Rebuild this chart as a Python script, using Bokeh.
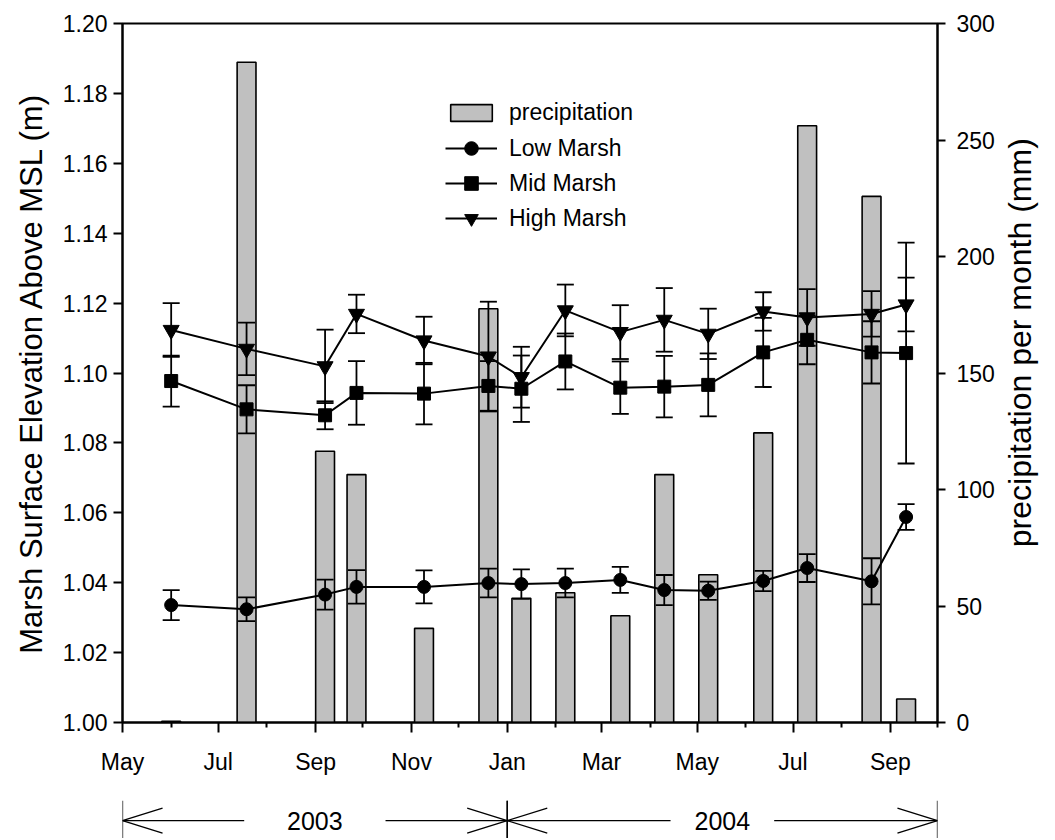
import math
import pandas as pd
from bokeh.plotting import figure
from bokeh.models import (ColumnDataSource, Range1d, LinearAxis, FixedTicker,
                          DatetimeTickFormatter, NumeralTickFormatter, Whisker,
                          TeeHead, Legend, LegendItem)
from bokeh.layouts import column, row
from bokeh.embed import file_html
from bokeh.resources import INLINE
from bokeh.core.properties import value

# ---------------- data ----------------
dates = ["2003-06-01", "2003-07-19", "2003-09-07", "2003-09-27", "2003-11-09",
         "2003-12-20", "2004-01-10", "2004-02-07", "2004-03-13", "2004-04-10",
         "2004-05-08", "2004-06-12", "2004-07-10", "2004-08-20", "2004-09-11"]
precip = [0.5, 283.4, 116.4, 106.4, 40.4, 177.6, 53.3, 55.7, 45.8, 106.4,
          63.4, 124.3, 256.1, 225.8, 10.1]
low = [1.0336, 1.0324, 1.0366, 1.0388, 1.0388, 1.0399, 1.0396, 1.0399, 1.0408,
       1.0379, 1.0377, 1.0405, 1.0442, 1.0404, 1.0588]
low_err = [0.0043, 0.0034, 0.0043, 0.0048, 0.0047, 0.0041, 0.0042, 0.0041, 0.0037,
           0.0043, 0.0026, 0.0029, 0.0040, 0.0066, 0.0037]
mid = [1.0977, 1.0896, 1.0879, 1.0943, 1.0941, 1.0963, 1.0955, 1.1033, 1.0958,
       1.0961, 1.0966, 1.1059, 1.1095, 1.1059, 1.1057]
mid_err = [0.0073, 0.0069, 0.0040, 0.0091, 0.0088, 0.0071, 0.0095, 0.0080, 0.0075,
           0.0088, 0.0090, 0.0099, 0.0070, 0.0089, 0.0316]
high = [1.1123, 1.1069, 1.1019, 1.1169, 1.1093, 1.1047, 1.0988, 1.1179, 1.1117,
        1.1152, 1.1112, 1.1176, 1.1159, 1.1169, 1.1196]
high_err = [0.0077, 0.0075, 0.0105, 0.0055, 0.0068, 0.0157, 0.0087, 0.0074, 0.0077,
            0.0091, 0.0072, 0.0055, 0.0081, 0.0065, 0.0077]

x_start, x_end = "2003-05-01", "2004-10-01"
major_months = ["2003-05-01", "2003-07-01", "2003-09-01", "2003-11-01", "2004-01-01",
                "2004-03-01", "2004-05-01", "2004-07-01", "2004-09-01"]
minor_months = ["2003-06-01", "2003-08-01", "2003-10-01", "2003-12-01", "2004-02-01",
                "2004-04-01", "2004-06-01", "2004-08-01", "2004-10-01"]
left_ticks = [1.00, 1.02, 1.04, 1.06, 1.08, 1.10, 1.12, 1.14, 1.16, 1.18, 1.20]
right_ticks = [0, 50, 100, 150, 200, 250, 300]
years = ["2003", "2004"]
year_starts = ["2003-05-01", "2004-01-01"]
year_ends = ["2004-01-01", "2004-10-01"]
right_title = "precipitation per month (mm)"

FONT = "Liberation Sans"
DAY = 86400000


def ms(d):
    return pd.Timestamp(d).value // 10**6


x = pd.to_datetime(dates)
src = ColumnDataSource(dict(
    x=x, precip=precip,
    low=low, low_up=[v + e for v, e in zip(low, low_err)], low_lo=[v - e for v, e in zip(low, low_err)],
    mid=mid, mid_up=[v + e for v, e in zip(mid, mid_err)], mid_lo=[v - e for v, e in zip(mid, mid_err)],
    high=high, high_up=[v + e for v, e in zip(high, high_err)], high_lo=[v - e for v, e in zip(high, high_err)],
))

LEFT, RIGHT_EDGE = 122, 937
W1 = 999            # main figure width
WR = 50             # strip holding the right axis title
TOP, BOTTOM, H1 = 23, 78, 800

p = figure(width=W1, height=H1, x_axis_type="datetime",
           x_range=Range1d(pd.Timestamp(x_start), pd.Timestamp(x_end)),
           y_range=Range1d(1.0, 1.2),
           output_backend="svg", toolbar_location=None,
           min_border_left=LEFT, min_border_right=W1 - RIGHT_EDGE,
           min_border_top=TOP, min_border_bottom=BOTTOM)
precip_range = Range1d(0, 300)
p.extra_y_ranges = {"precip": precip_range}
p.grid.visible = False
p.outline_line_color = "black"
p.outline_line_width = 2
p.background_fill_color = "white"
p.border_fill_color = "white"

# bars
bars = p.vbar(x="x", top="precip", bottom=0, width=12 * DAY, source=src, y_range_name="precip",
              fill_color="#c0c0c0", line_color="black", line_width=1.6)

# series
series = []
for key, marker, size in [("low", "circle", 13), ("mid", "square", 13), ("high", "inverted_triangle", 16)]:
    ln = p.line("x", key, source=src, line_color="black", line_width=2)
    sc = p.scatter("x", key, source=src, marker=marker, size=size, fill_color="black", line_color="black")
    w = Whisker(source=src, base="x", upper=key + "_up", lower=key + "_lo",
                line_color="black", line_width=1.8, level="overlay",
                upper_head=TeeHead(size=17, line_width=1.8, line_color="black"),
                lower_head=TeeHead(size=17, line_width=1.8, line_color="black"))
    p.add_layout(w)
    series.append((ln, sc))

# axes
xa = p.xaxis[0]
xa.ticker = FixedTicker(ticks=[ms(d) for d in major_months], minor_ticks=[ms(d) for d in minor_months])
xa.formatter = DatetimeTickFormatter(months="%b", days="%b", years="%b", hours="%b",
                                     hourmin="%b", minutes="%b", minsec="%b", seconds="%b",
                                     milliseconds="%b", microseconds="%b")
xa.major_tick_in = 0
xa.major_tick_out = 10
xa.minor_tick_in = 0
xa.minor_tick_out = 5
xa.major_label_standoff = 16

ya = p.yaxis[0]
ya.ticker = FixedTicker(ticks=left_ticks)
ya.formatter = NumeralTickFormatter(format="0.00")
ya.axis_label = "Marsh Surface Elevation Above MSL (m)"
ya.major_tick_in = 0
ya.major_tick_out = 9
ya.major_label_standoff = 6
ya.axis_label_standoff = 11

ra = LinearAxis(y_range_name="precip", ticker=FixedTicker(ticks=right_ticks))
ra.major_tick_in = 0
ra.major_tick_out = 8
ra.major_label_standoff = 11
p.add_layout(ra, "right")

for ax in [xa, ya, ra]:
    ax.axis_line_width = 2
    ax.axis_line_color = "black"
    ax.major_tick_line_width = 2
    ax.major_tick_line_color = "black"
    ax.minor_tick_line_width = 2
    ax.major_label_text_font = FONT
    ax.major_label_text_font_size = "23px"
    ax.major_label_text_color = "black"
    ax.axis_label_text_font = FONT
    ax.axis_label_text_font_style = "normal"
    ax.axis_label_text_color = "black"
ya.axis_label_text_font_size = "31px"
ya.minor_tick_line_color = None
ra.minor_tick_line_color = None

# legends
common = dict(background_fill_alpha=0, border_line_color=None, padding=0, margin=0,
              glyph_width=52, label_standoff=12, label_text_font=FONT,
              label_text_font_size="23px", label_text_color="black")
leg1 = Legend(items=[LegendItem(label="precipitation", renderers=[bars])],
              location=(323, 596), glyph_height=21, label_height=21, **common)
leg2 = Legend(items=[LegendItem(label=lab, renderers=[ln, sc])
                     for lab, (ln, sc) in zip(["Low Marsh", "Mid Marsh", "High Marsh"], series)],
              location=(323, 487), glyph_height=34, label_height=34, spacing=1, **common)
p.add_layout(leg1)
p.add_layout(leg2)

# ---------------- right axis title strip (reads upwards) ----------------
pr = figure(width=WR, height=H1, x_range=Range1d(0, 1), y_range=precip_range,
            x_axis_type=None, y_axis_type=None,
            output_backend="svg", toolbar_location=None,
            min_border_left=0, min_border_right=0, min_border_top=TOP, min_border_bottom=BOTTOM)
pr.grid.visible = False
pr.outline_line_color = None
pr.background_fill_color = "white"
pr.border_fill_color = "white"
pr.text(x=[0.4], y=[163], text=[right_title], angle=math.pi / 2,
        text_align="center", text_baseline="middle",
        text_font=value(FONT), text_font_size="32px", text_color="black")

# ---------------- year bar below ----------------
W2 = W1 + WR
p2 = figure(width=W2, height=38, x_range=p.x_range, y_range=Range1d(0, 1),
            x_axis_type=None, y_axis_type=None,
            output_backend="svg", toolbar_location=None,
            min_border_left=LEFT, min_border_right=W2 - RIGHT_EDGE,
            min_border_top=0, min_border_bottom=0)
p2.grid.visible = False
p2.outline_line_color = None
p2.background_fill_color = "white"
p2.border_fill_color = "white"

yc, hh, head = 0.47, 0.33, 25.5
gaps = [45, 33]
sx0, sy0, sx1, sy1 = [], [], [], []
tx, ty = [], []


def seg(a, b, c, d):
    sx0.append(a); sy0.append(b); sx1.append(c); sy1.append(d)


for yr, s, e, g in zip(years, year_starts, year_ends, gaps):
    a, b = pd.Timestamp(s), pd.Timestamp(e)
    m = a + (b - a) / 2
    gd = pd.Timedelta(days=g)
    hd = pd.Timedelta(days=head)
    seg(a, yc, m - gd, yc)
    seg(m + gd, yc, b, yc)
    seg(a, yc, a + hd, yc + hh)
    seg(a, yc, a + hd, yc - hh)
    seg(b, yc, b - hd, yc + hh)
    seg(b, yc, b - hd, yc - hh)
    seg(a, 0, a, 1)
    seg(b, 0, b, 1)
    tx.append(m)
    ty.append(yc)

p2.segment(x0=sx0, y0=sy0, x1=sx1, y1=sy1, line_color="black", line_width=1.3)
p2.text(x=tx, y=ty, text=years, text_align="center", text_baseline="middle",
        text_font=value(FONT), text_font_size="25px", text_color="black")

layout = column(row(p, pr, spacing=0), p2, spacing=0)
open("out.html", "w").write(file_html(layout, INLINE))
